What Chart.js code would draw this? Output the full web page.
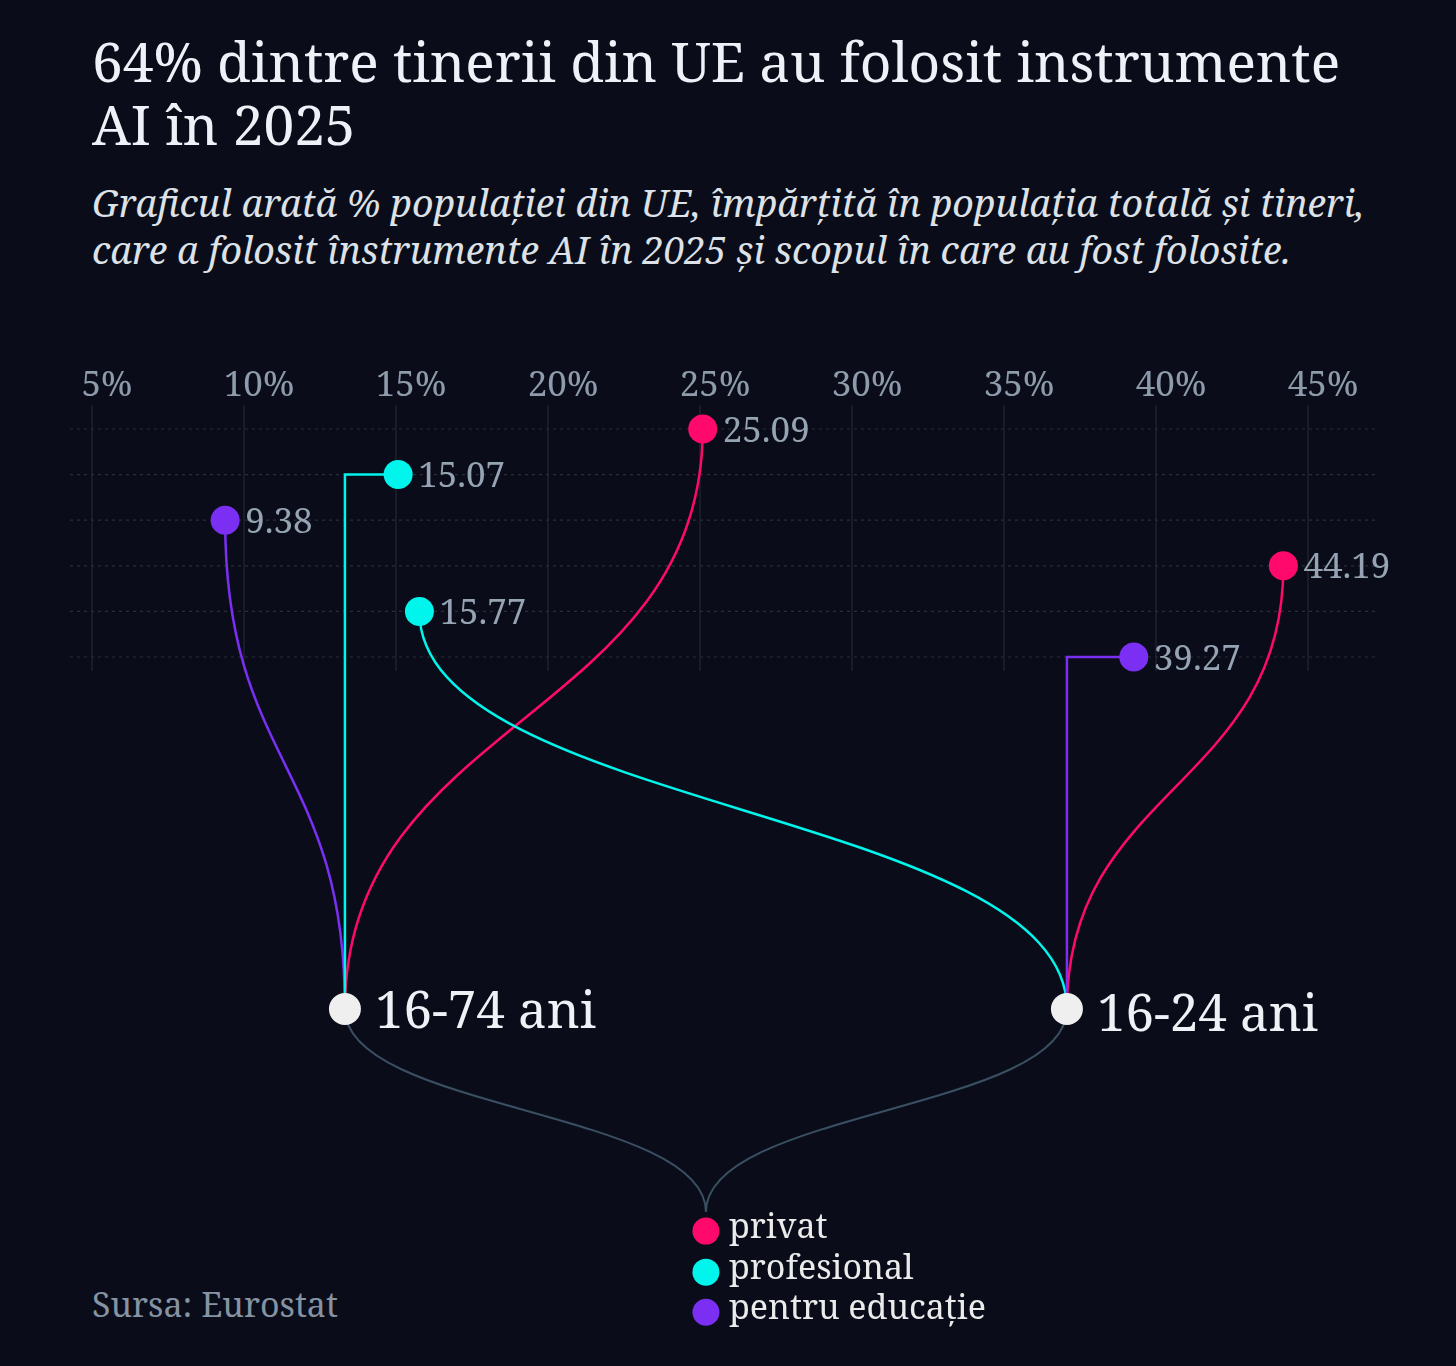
<!DOCTYPE html>
<html>
<head>
<meta charset="utf-8">
<script src="https://cdn.jsdelivr.net/npm/chart.js@4.4.1/dist/chart.umd.min.js"></script>
<style>
  body{margin:0;background:#0a0d19;width:1456px;height:1366px;overflow:hidden;position:relative;
       font-family:"Noto Serif","DejaVu Serif",serif}
  #title{position:absolute;left:92px;top:29px;width:1300px;font-size:55px;line-height:63px;color:#eef2f8}
  #sub{position:absolute;left:92px;top:179px;width:1320px;font-size:37.5px;line-height:47px;font-style:italic;color:#dde1e8}
  #src{position:absolute;left:92px;top:1284px;font-size:34px;line-height:40px;color:#8593a3}
  #wrap{position:absolute;left:0;top:0;width:1456px;height:1366px}
</style>
</head>
<body>
<div id="title">64% dintre tinerii din UE au folosit instrumente AI în 2025</div>
<div id="sub">Graficul arată % populației din UE, împărțită în populația totală și tineri, care a folosit înstrumente AI în 2025 și scopul în care au fost folosite.</div>
<div id="src">Sursa: Eurostat</div>
<div id="wrap"><canvas id="myChart"></canvas></div>
<script>
// data
const tickValues = [5, 10, 15, 20, 25, 30, 35, 40, 45];
const groups = ['16-74 ani', '16-24 ani'];
const categories = ['privat', 'profesional', 'pentru educație'];
const values1674 = [25.09, 15.07, 9.38];
const values1624 = [44.19, 15.77, 39.27];
const rows1674 = [0, 1, 2];
const rows1624 = [3, 4, 5];

// layout / style
const FONT = '"Noto Serif", "DejaVu Serif", serif';
const BG = '#0a0d19';
const catColors = ['#ff0a6c', '#00f5ec', '#7b2ff2'];
const nodeX = [13.32, 37.07];
const nodeY = 12.72;
const joinY = 17.17;
const legendRows = [17.59, 18.49, 19.37];
const linkKind = [['curve', 'step', 'curve'], ['curve', 'curve', 'step']];
const nodeLabelDy = [19, 22];

const series = [values1674, values1624];
const rows = [rows1674, rows1624];
const midX = (nodeX[0] + nodeX[1]) / 2;

const datasets = [];
categories.forEach((cat, c) => {
  datasets.push({
    type: 'scatter',
    label: cat,
    order: 1,
    data: series.map((vals, g) => ({x: vals[c], y: rows[g][c]})),
    backgroundColor: catColors[c],
    borderWidth: 0,
    pointRadius: 14.5,
    pointHoverRadius: 14.5
  });
});
series.forEach((vals, g) => {
  vals.forEach((v, c) => {
    if (linkKind[g][c] !== 'step') return;
    datasets.push({
      type: 'line',
      order: 3,
      data: [{x: v, y: rows[g][c]}, {x: nodeX[g], y: nodeY}],
      stepped: 'before',
      borderColor: catColors[c],
      borderWidth: 2.5,
      pointRadius: 0,
      fill: false
    });
  });
});
datasets.push({
  type: 'scatter',
  label: 'grupe',
  order: 0,
  data: groups.map((n, g) => ({x: nodeX[g], y: nodeY})),
  backgroundColor: '#efefef',
  borderWidth: 0,
  pointRadius: 16,
  pointHoverRadius: 16
});
datasets.push({
  type: 'scatter',
  label: 'legenda',
  order: 0,
  data: categories.map((c, i) => ({x: midX, y: legendRows[i]})),
  backgroundColor: catColors,
  borderWidth: 0,
  pointRadius: 13.5,
  pointHoverRadius: 13.5
});

function link(ctx, x0, y0, x1, y1) {
  const my = (y0 + y1) / 2;
  ctx.beginPath();
  ctx.moveTo(x0, y0);
  ctx.bezierCurveTo(x0, my, x1, my, x1, y1);
  ctx.stroke();
}

const linkPlugin = {
  id: 'links',
  beforeDatasetsDraw(chart) {
    const {ctx, chartArea: a} = chart;
    const x = chart.scales.x, y = chart.scales.y;
    ctx.save();
    // vertical grid
    const gridBottom = y.getPixelForValue(5) + 14;
    ctx.strokeStyle = '#1c222e';
    ctx.lineWidth = 1.5;
    tickValues.forEach(t => {
      const px = x.getPixelForValue(t);
      ctx.beginPath(); ctx.moveTo(px, a.top); ctx.lineTo(px, gridBottom); ctx.stroke();
    });
    // dotted rows
    ctx.setLineDash([3, 4]);
    ctx.strokeStyle = '#292f39';
    ctx.lineWidth = 1.2;
    rows.flat().forEach(r => {
      const py = y.getPixelForValue(r);
      ctx.beginPath(); ctx.moveTo(a.left, py); ctx.lineTo(a.right, py); ctx.stroke();
    });
    ctx.setLineDash([]);
    // curved links to group nodes
    ctx.lineWidth = 2.5;
    series.forEach((vals, g) => {
      vals.forEach((v, c) => {
        if (linkKind[g][c] !== 'curve') return;
        ctx.strokeStyle = catColors[c];
        link(ctx, x.getPixelForValue(v), y.getPixelForValue(rows[g][c]),
             x.getPixelForValue(nodeX[g]), y.getPixelForValue(nodeY));
      });
    });
    // nodes to legend
    ctx.strokeStyle = '#3a5062';
    ctx.lineWidth = 2;
    groups.forEach((n, g) => {
      link(ctx, x.getPixelForValue(nodeX[g]), y.getPixelForValue(nodeY),
           x.getPixelForValue(midX), y.getPixelForValue(joinY));
    });
    ctx.restore();
  },
  afterDatasetsDraw(chart) {
    const {ctx} = chart;
    const x = chart.scales.x, y = chart.scales.y;
    ctx.save();
    ctx.textBaseline = 'alphabetic';
    ctx.textAlign = 'left';
    // value labels
    ctx.font = '35px ' + FONT;
    ctx.fillStyle = '#95a3b3';
    series.forEach((vals, g) => {
      vals.forEach((v, c) => {
        ctx.fillText(v.toFixed(2), x.getPixelForValue(v) + 20, y.getPixelForValue(rows[g][c]) + 12.5);
      });
    });
    // group labels
    ctx.font = '51px ' + FONT;
    ctx.lineJoin = 'round';
    groups.forEach((n, g) => {
      const px = x.getPixelForValue(nodeX[g]) + 30;
      const py = y.getPixelForValue(nodeY) + nodeLabelDy[g];
      ctx.strokeStyle = BG;
      ctx.lineWidth = 6;
      ctx.strokeText(n, px, py);
      ctx.fillStyle = '#eef2f7';
      ctx.fillText(n, px, py);
    });
    // legend labels
    ctx.font = '34px ' + FONT;
    ctx.fillStyle = '#ebebeb';
    categories.forEach((c, i) => {
      ctx.fillText(c, x.getPixelForValue(midX) + 23, y.getPixelForValue(legendRows[i]) + 6.5);
    });
    ctx.restore();
  }
};

const ctx = document.getElementById('myChart').getContext('2d');
const chart = new Chart(ctx, {
  type: 'scatter',
  data: {datasets: datasets},
  options: {
    responsive: true,
    maintainAspectRatio: false,
    animation: false,
    events: [],
    layout: {padding: {left: 70, right: 78, top: 367, bottom: 16}},
    plugins: {legend: {display: false}, tooltip: {enabled: false}},
    scales: {
      x: {
        type: 'linear',
        position: 'top',
        min: 5 - 22 / 30.4,
        max: 5 + 1286 / 30.4,
        afterBuildTicks: axis => { axis.ticks = tickValues.map(v => ({value: v})); },
        grid: {display: false, drawTicks: false},
        border: {display: false},
        ticks: {
          callback: v => v + '%',
          color: '#8d9bab',
          font: {family: FONT, size: 35, lineHeight: 1},
          padding: 1.5,
          labelOffset: 15,
          maxRotation: 0,
          autoSkip: false
        }
      },
      y: {
        type: 'linear',
        display: false,
        reverse: true,
        min: -24 / 45.6,
        max: (1350 - 429) / 45.6
      }
    }
  },
  plugins: [linkPlugin]
});
</script>
</body>
</html>
